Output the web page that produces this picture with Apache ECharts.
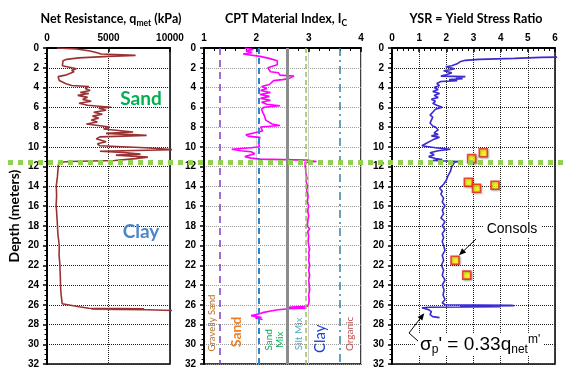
<!DOCTYPE html>
<html>
<head>
<meta charset="utf-8">
<script src="https://cdn.jsdelivr.net/npm/echarts@6/dist/echarts.min.js"></script>
<style>
html,body{margin:0;padding:0;background:#fff}
#chart{width:563px;height:369px}
</style>
</head>
<body>
<div id="chart"></div>
<script>
// ---- CPT profile data (depth in metres) ----
const qnetDepth = [0.0,0.1,0.3,0.45,0.6,0.75,0.85,1.0,1.15,1.3,1.5,1.8,2.0,2.1,2.25,2.4,2.6,2.75,2.9,3.1,3.3,3.6,3.8,3.9,4.1,4.3,4.5,4.6,4.8,5.0,5.2,5.4,5.6,5.8,6.0,6.1,6.3,6.5,6.7,6.9,7.1,7.3,7.5,7.7,7.9,8.0,8.2,8.5,8.65,8.85,9.0,9.2,9.5,9.7,9.9,10.1,10.3,10.45,10.6,10.75,10.85,11.05,11.2,11.4,11.5,11.6,11.8,12.5,13.0,13.5,14.0,14.5,15.0,15.5,16.0,16.5,17.0,17.5,18.0,18.5,19.0,19.5,20.0,20.5,21.0,21.5,22.0,22.5,23.0,23.5,24.0,24.5,25.0,25.5,25.9,26.0,26.2,26.35,26.4,26.45,26.5,26.6,26.7];
const qnetKPa = [800,2400,3500,4000,4400,7200,5000,2600,1600,1300,1200,1250,1350,2400,2000,2200,2300,1500,900,880,1000,1500,2000,3400,3100,3500,2700,3400,2500,3300,2900,3600,2600,3300,5200,4200,4800,3800,4500,3700,4200,3600,4100,3200,3200,5100,4600,7000,4800,8100,4300,4000,4800,4100,4300,8000,10300,4300,6500,7600,5600,8200,7200,5500,1800,950,920,880,850,800,750,770,780,760,740,780,800,830,850,870,900,950,1000,990,980,1020,1050,1060,1080,1090,1100,1120,1150,1200,1230,1300,2600,3400,7900,3600,8200,10500,10600];

const icDepth = [0.0,0.15,0.3,0.45,0.6,0.75,0.85,1.0,1.1,1.3,1.5,1.7,1.9,2.0,2.2,2.4,2.5,2.75,2.85,2.95,3.1,3.2,3.3,3.5,3.7,3.9,4.1,4.3,4.5,4.7,4.9,5.1,5.3,5.5,5.7,5.85,6.0,6.2,6.5,6.8,7.0,7.3,7.5,7.7,7.85,8.0,8.2,8.4,8.6,8.8,8.95,9.05,9.3,9.6,9.8,10.0,10.1,10.25,10.4,10.5,10.7,10.85,11.0,11.15,11.25,11.35,11.5,11.6,11.8,12.2,12.8,13.2,13.5,14.0,14.4,15.0,15.5,16.0,16.5,17.0,17.5,18.0,18.3,18.6,19.0,19.5,20.0,20.4,20.5,20.7,21.0,21.5,22.0,22.5,23.0,23.5,24.0,24.5,25.0,25.5,25.9,26.0,26.15,26.2,26.25,26.35,26.4,26.5,26.6,26.8,27.0,27.1,27.2,27.25,27.3,27.35,27.5];
const icValue = [1.78,1.94,1.80,1.92,1.75,1.72,2.07,2.20,2.28,2.40,2.38,2.40,2.43,2.22,2.25,2.27,2.42,2.45,2.72,2.68,2.62,2.50,2.33,2.35,2.25,2.10,2.20,2.08,2.27,2.07,2.25,2.08,2.27,2.10,2.20,2.45,2.15,2.10,2.12,2.15,2.12,2.18,2.20,2.30,2.45,2.08,2.07,2.12,1.95,1.80,1.85,2.07,2.05,2.04,2.07,2.06,1.90,1.53,1.70,1.90,1.97,1.95,1.78,1.90,2.07,2.96,3.15,2.93,2.95,2.94,2.95,2.97,2.95,2.98,2.96,2.99,2.97,3.00,2.98,3.00,2.98,2.97,3.02,2.98,3.00,2.99,3.00,3.02,3.05,3.00,3.01,3.00,3.02,3.00,3.02,3.00,3.01,3.02,3.00,3.01,3.00,3.00,2.98,2.75,2.62,2.95,2.62,2.42,2.30,2.12,2.00,1.90,1.87,2.05,2.10,1.98,2.12];

const ysrDepth = [0.9,0.95,1.05,1.15,1.25,1.4,1.6,1.8,1.9,2.0,2.1,2.2,2.3,2.5,2.7,2.85,2.9,3.0,3.1,3.2,3.3,3.4,3.6,3.8,4.0,4.2,4.4,4.6,4.8,5.0,5.2,5.4,5.6,5.8,6.0,6.2,6.5,6.8,7.0,7.3,7.6,7.9,8.0,8.3,8.6,8.75,8.9,9.05,9.3,9.6,9.9,10.1,10.25,10.4,10.6,10.8,11.0,11.2,11.3,11.4,11.5,11.6,12.0,12.5,13.0,13.4,13.8,14.2,14.5,14.8,15.2,15.6,16.0,16.4,16.8,17.2,17.6,18.0,18.4,18.8,19.2,19.6,20.0,20.5,21.0,21.5,22.0,22.5,23.0,23.5,24.0,24.5,25.0,25.5,25.8,26.0,26.05,26.1,26.15,26.2,26.25,26.3,26.4,26.5,26.6,26.7,26.8,27.0,27.1,27.2,27.3];
const ysrValue = [6.5,5.5,4.5,3.2,2.7,2.5,2.4,2.2,1.98,2.05,2.3,2.15,1.9,2.2,2.0,1.8,2.7,2.35,2.6,2.1,2.4,1.8,1.65,1.75,1.55,1.7,1.5,1.75,1.55,1.7,1.45,1.6,1.5,1.65,1.85,1.6,1.5,1.4,1.5,1.45,1.4,1.5,1.6,1.7,1.55,1.7,1.45,1.75,1.5,1.3,1.1,1.6,2.15,1.7,1.4,1.55,1.35,1.6,1.85,1.5,2.45,2.3,2.2,2.15,2.05,2.0,1.9,1.75,1.85,1.8,1.9,1.85,1.95,1.85,1.9,1.8,1.95,1.85,1.95,1.85,1.9,1.85,1.9,1.95,1.85,1.9,1.82,1.9,1.85,1.95,1.85,1.92,1.88,1.95,1.85,1.95,4.4,4.5,2.5,4.0,1.4,1.1,1.15,1.35,1.3,1.45,1.5,1.4,1.45,1.5,1.75];

// Oedometer (consolidation) test results
const consolDepth = [10.6, 11.2, 13.6, 14.2, 13.9, 21.5, 23.0];
const consolYSR   = [3.36, 2.93, 2.81, 3.11, 3.79, 2.32, 2.75];

// Ic soil-behaviour boundaries and zone names
const icBoundaries = [1.31, 2.05, 2.6, 2.95, 3.6];
const zoneNames = ['Gravelly Sand', 'Sand', 'Sand\nMix', 'Silt Mix', 'Clay', 'Organic'];
const zoneIc    = [1.15, 1.63, 2.34, 2.82, 3.22, 3.79];
const zoneDepth = [27.85, 28.75, 29.55, 28.95, 29.45, 28.95];

// Sand / clay transition depth
const transitionDepth = 11.6;

const zip = (xs, ys) => xs.map((x, i) => [x, ys[i]]);

const FONT = 'Liberation Sans';
const chart = echarts.init(document.getElementById('chart'), null, {renderer: 'canvas'});

const grids = [
  {left: 47, top: 48, width: 123, height: 318},
  {left: 204, top: 48, width: 157, height: 318},
  {left: 392, top: 48, width: 163, height: 318}
].map(g => Object.assign(g, {show: true, borderColor: '#000', borderWidth: 1.5, backgroundColor: '#fff'}));

function xAxis(i, min, max, interval, minor, split) {
  return {
    gridIndex: i, type: 'value', position: 'top', min, max, interval,
    axisLine: {show: true, lineStyle: {color: '#000', width: 2}},
    axisTick: {show: true, inside: true, length: 4, lineStyle: {color: '#000', width: 1.5}},
    minorTick: {show: minor, splitNumber: 5, length: 3, lineStyle: {color: '#000'}},
    axisLabel: {color: '#000', fontFamily: FONT, fontWeight: 'bold', fontSize: 10, margin: 5,
      formatter: v => String(v)},
    splitLine: split
  };
}
function yAxis(i, split) {
  return {
    gridIndex: i, type: 'value', inverse: true, min: 0, max: 32, interval: 2,
    axisLine: {show: true, onZero: false, lineStyle: {color: '#000', width: 2}},
    axisTick: {show: true, length: 4, lineStyle: {color: '#000', width: 1.5}},
    minorTick: {show: true, splitNumber: 4, length: 2.5, lineStyle: {color: '#000'}},
    axisLabel: {color: '#000', fontFamily: FONT, fontWeight: 'bold', fontSize: 10, margin: 8},
    splitLine: split
  };
}
const darkDots = {show: true, lineStyle: {color: '#222', type: 'dotted', width: 1}};
const greyDots = {show: true, lineStyle: {color: '#9a9a9a', type: 'dotted', width: 1}};

const boundaryStyles = [
  {color: '#7f3fbf', type: [7, 5], width: 1.5},
  {color: '#2a86d0', type: [6, 4], width: 2},
  {color: '#8c8c8c', type: 'solid', width: 3},
  {color: '#9bbb59', type: [5, 3], width: 1.5},
  {color: '#31859c', type: [8, 4, 2, 4], width: 1.5}
];

chart.setOption({
  animation: false,
  grid: grids,
  xAxis: [
    xAxis(0, 0, 10000, 5000, false, darkDots),
    xAxis(1, 1, 4, 1, true, {show: true, lineStyle: {color: '#cfcfcf', type: 'solid', width: 1}}),
    xAxis(2, 0, 6, 1, true, darkDots)
  ],
  yAxis: [yAxis(0, darkDots), yAxis(1, greyDots), yAxis(2, darkDots)],
  series: [
    {
      name: 'qnet', type: 'line', xAxisIndex: 0, yAxisIndex: 0,
      data: zip(qnetKPa, qnetDepth), symbol: 'none', clip: true,
      lineStyle: {color: '#993333', width: 1.6}, z: 3
    },
    {
      name: 'Ic boundaries', type: 'line', xAxisIndex: 1, yAxisIndex: 1, data: [],
      silent: true, z: 2,
      markLine: {
        silent: true, symbol: ['none', 'none'], label: {show: false}, animation: false,
        data: icBoundaries.map((v, i) => ({xAxis: v, lineStyle: boundaryStyles[i]}))
      }
    },
    {
      name: 'Ic', type: 'line', xAxisIndex: 1, yAxisIndex: 1,
      data: zip(icValue, icDepth), symbol: 'none', clip: true,
      lineStyle: {color: '#ff00ff', width: 1.6}, z: 3
    },
    {
      name: 'YSR', type: 'line', xAxisIndex: 2, yAxisIndex: 2,
      data: zip(ysrValue, ysrDepth), symbol: 'none', clip: true,
      lineStyle: {color: '#3a2bd0', width: 1.6}, z: 3
    },
    {
      name: 'Consols', type: 'scatter', xAxisIndex: 2, yAxisIndex: 2,
      data: zip(consolYSR, consolDepth), symbol: 'rect', symbolSize: 8,
      itemStyle: {color: '#ffff00', borderColor: '#e8221b', borderWidth: 1.6,
        shadowColor: 'rgba(0,0,0,0.35)', shadowBlur: 2, shadowOffsetX: 1, shadowOffsetY: 1},
      z: 4
    }
  ]
});

// ---- annotations placed through the axes' own scales ----
const px = (g, x, y) => chart.convertToPixel({gridIndex: g}, [x, y]);

function arrow(x1, y1, x2, y2, color) {
  const a = Math.atan2(y2 - y1, x2 - x1), L = 7, W = 3;
  const bx = x2 - L * Math.cos(a), by = y2 - L * Math.sin(a);
  return [
    {type: 'line', shape: {x1, y1, x2: bx, y2: by}, style: {stroke: color, lineWidth: 1}, z: 20},
    {type: 'polygon', shape: {points: [[x2, y2],
      [bx + W * Math.sin(a), by - W * Math.cos(a)],
      [bx - W * Math.sin(a), by + W * Math.cos(a)]]}, style: {fill: color}, z: 20}
  ];
}

const graphics = [];
const title = (x, text, rich) => ({
  type: 'text', x, y: 19, z: 30,
  style: {text, rich, align: 'center', verticalAlign: 'middle',
    fontFamily: 'Lato', fontWeight: 'bold', fontSize: 12.5, fill: '#000'}
});
const titleRich = {
  a: {fontFamily: 'Lato', fontWeight: 'bold', fontSize: 12.5, fill: '#000'},
  s: {fontFamily: 'Lato', fontWeight: 'bold', fontSize: 8.5, fill: '#000', padding: [8, 0, 0, 0]}
};
graphics.push(title(111, '{a|Net Resistance, q}{s|met}{a| (kPa)}', titleRich));
graphics.push(title(286, '{a|CPT Material Index, I}{s|C}', titleRich));
graphics.push(title(476, '{a|YSR = Yield Stress Ratio}', titleRich));

graphics.push({
  type: 'text', x: 14, y: 216, rotation: Math.PI / 2, z: 30,
  style: {text: 'Depth (meters)', align: 'center', verticalAlign: 'middle',
    fontFamily: 'Lato', fontWeight: 'bold', fontSize: 14, fill: '#000'}
});

// transition line across all three panels
const yT = px(0, 0, transitionDepth)[1];
graphics.push({
  type: 'line', z: 25,
  shape: {x1: 8, y1: yT, x2: 563, y2: yT},
  style: {stroke: '#92d050', lineWidth: 5, lineDash: [5, 5]}
});

// soil labels in the first panel
graphics.push({type: 'text', x: 141, y: 99, z: 30,
  style: {text: 'Sand', align: 'center', verticalAlign: 'middle',
    fontFamily: 'Lato', fontWeight: 'bold', fontSize: 19, fill: '#00b050'}});
graphics.push({type: 'text', x: 141, y: 232, z: 30,
  style: {text: 'Clay', align: 'center', verticalAlign: 'middle',
    fontFamily: 'Lato', fontWeight: 'bold', fontSize: 19, fill: '#4a86c8'}});

// Ic zone names (vertical)
const zoneStyles = [
  {fill: '#b8702c', fontSize: 9.5, fontWeight: 'normal'},
  {fill: '#f07d1e', fontSize: 14, fontWeight: 'bold'},
  {fill: '#00b050', fontSize: 10, fontWeight: 'normal'},
  {fill: '#4bacc6', fontSize: 10, fontWeight: 'normal'},
  {fill: '#1f3fd0', fontSize: 15, fontWeight: 'normal'},
  {fill: '#c0504d', fontSize: 10, fontWeight: 'normal'}
];
zoneNames.forEach((name, i) => {
  const p = px(1, zoneIc[i], zoneDepth[i]);
  graphics.push({
    type: 'text', x: p[0], y: p[1], rotation: Math.PI / 2, z: 30,
    style: Object.assign({text: name, align: 'center', verticalAlign: 'middle',
      fontFamily: 'Lato', lineHeight: 11}, zoneStyles[i])
  });
});

// "Consols" callout
graphics.push({type: 'rect', z: 18, shape: {x: 483, y: 220, width: 58, height: 18}, style: {fill: '#fff'}});
graphics.push({type: 'text', x: 512, y: 229, z: 30,
  style: {text: 'Consols', align: 'center', verticalAlign: 'middle',
    fontFamily: FONT, fontSize: 14, fill: '#000'}});
const cp = px(2, consolYSR[5], consolDepth[5]);
graphics.push(...arrow(476, 239, cp[0] + 4, cp[1] - 5, '#000'));

// preconsolidation relation callout
graphics.push({type: 'rect', z: 18, shape: {x: 416, y: 333, width: 128, height: 22}, style: {fill: '#fff'}});
graphics.push({type: 'text', x: 420, y: 345, z: 30,
  style: {
    text: '{b|σ}{s|p}{b|\' = 0.33q}{s|net}{u|m\'}',
    align: 'left', verticalAlign: 'middle',
    rich: {
      b: {fontFamily: FONT, fontSize: 19, fill: '#000'},
      s: {fontFamily: FONT, fontSize: 12, fill: '#000', padding: [10, 0, 0, 0]},
      u: {fontFamily: FONT, fontSize: 12, fill: '#000', padding: [0, 0, 10, 0]}
    }
  }});
const sp = px(2, 1.15, 26.45);
graphics.push({type: 'polyline', z: 20, shape: {points: [[418, 341], [409, 333]]},
  style: {stroke: '#000', lineWidth: 1, fill: null}});
graphics.push(...arrow(409, 333, sp[0] + 1, sp[1] + 4, '#000'));

chart.setOption({graphic: graphics});
</script>
</body>
</html>
